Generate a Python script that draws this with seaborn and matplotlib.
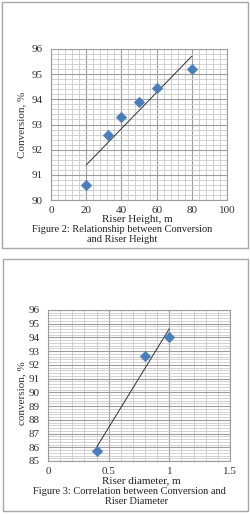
import matplotlib
matplotlib.use("Agg")
import matplotlib.pyplot as plt
import seaborn as sns
import pandas as pd
from matplotlib.ticker import MultipleLocator
from matplotlib.patches import Rectangle

# Figure 2: conversion vs riser height
height_m = [20, 32.5, 40, 50, 60, 80]
conv_height = [90.6, 92.6, 93.3, 93.9, 94.45, 95.2]
height_ticks = [0, 20, 40, 60, 80, 100]
height_tick_labels = ["0", "20", "40", "60", "80", "100"]
conv_ticks_top = [90, 91, 92, 93, 94, 95, 96]

# Figure 3: conversion vs riser diameter
diameter_m = [0.4, 0.8, 1.0]
conv_diameter = [85.7, 92.65, 94.05]
diam_ticks = [0, 0.5, 1, 1.5]
diam_tick_labels = ["0", "0.5", "1", "1.5"]
conv_ticks_bottom = list(range(85, 97))

df_h = pd.DataFrame({"height": height_m, "conv": conv_height})
df_d = pd.DataFrame({"diameter": diameter_m, "conv": conv_diameter})

sns.set_style("white")
plt.rcParams["font.family"] = ["Liberation Serif", "DejaVu Serif"]

W, H = 250, 514
fig = plt.figure(figsize=(W / 100, H / 100), dpi=100)
blue = "#4a7ebb"


def px(x0, y0, x1, y1):
    # pixel box (top-left origin) -> figure fraction rect
    return [x0 / W, 1 - y1 / H, (x1 - x0) / W, (y1 - y0) / H]


def style_axes(ax, xminor, yminor):
    ax.xaxis.set_minor_locator(MultipleLocator(xminor))
    ax.yaxis.set_minor_locator(MultipleLocator(yminor))
    ax.grid(which="minor", color="#cacaca", lw=0.6)
    ax.grid(which="major", color="#9c9c9c", lw=0.8)
    ax.set_axisbelow(True)
    for s in ax.spines.values():
        s.set_color("#9c9c9c")
        s.set_linewidth(0.8)
    ax.tick_params(which="both", length=0, labelsize=8, colors="#333333")
    ax.tick_params(axis="y", pad=6)
    ax.tick_params(axis="x", pad=4)
    ax.set_xlabel("")
    ax.set_ylabel("")


# panel borders
for (x0, y0, x1, y1) in [(2, 2, 248, 248), (3, 259, 248, 511)]:
    fig.patches.append(Rectangle((x0 / W, 1 - y1 / H), (x1 - x0) / W, (y1 - y0) / H,
                                 transform=fig.transFigure, fill=False,
                                 edgecolor="#a8a8a8", lw=1.0))

# ---- top chart
ax1 = fig.add_axes(px(51, 49, 227, 200))
sns.regplot(data=df_h, x="height", y="conv", scatter=False, ci=None, ax=ax1,
            line_kws={"color": "#333333", "lw": 0.7})
sns.scatterplot(data=df_h, x="height", y="conv", marker="D", s=30, color=blue,
                edgecolor=blue, linewidth=0.3, ax=ax1, zorder=3)
ax1.set_xlim(0, 100)
ax1.set_ylim(90, 96)
ax1.set_xticks(height_ticks)
ax1.set_xticklabels(height_tick_labels)
ax1.set_yticks(conv_ticks_top)
style_axes(ax1, 4, 0.2)

fig.text(22 / W, 1 - 125 / H, "Conversion, %", rotation=90, ha="center",
         va="center", fontsize=8, color="#333333")
fig.text(137 / W, 1 - 220 / H, "Riser Height, m", ha="center", va="center",
         fontsize=8, color="#222222")
fig.text(122 / W, 1 - 229.5 / H, "Figure 2: Relationship between Conversion",
         ha="center", va="center", fontsize=7.5, color="#222222")
fig.text(122 / W, 1 - 239.5 / H, "and Riser Height", ha="center", va="center",
         fontsize=7.5, color="#222222")

# ---- bottom chart
ax2 = fig.add_axes(px(48, 310, 230, 461))
sns.regplot(data=df_d, x="diameter", y="conv", scatter=False, ci=None, ax=ax2,
            line_kws={"color": "#333333", "lw": 0.7})
sns.scatterplot(data=df_d, x="diameter", y="conv", marker="D", s=30, color=blue,
                edgecolor=blue, linewidth=0.3, ax=ax2, zorder=3)
ax2.set_xlim(0, 1.5)
ax2.set_ylim(85, 96)
ax2.set_xticks(diam_ticks)
ax2.set_xticklabels(diam_tick_labels)
ax2.set_yticks(conv_ticks_bottom)
style_axes(ax2, 0.1, 0.2)

fig.text(22 / W, 1 - 393 / H, "conversion, %", rotation=90, ha="center",
         va="center", fontsize=8, color="#333333")
fig.text(141 / W, 1 - 481 / H, "Riser diameter, m", ha="center", va="center",
         fontsize=8, color="#222222")
fig.text(129 / W, 1 - 491 / H, "Figure 3: Correlation between Conversion and",
         ha="center", va="center", fontsize=7.5, color="#222222")
fig.text(137 / W, 1 - 502 / H, "Riser Diameter", ha="center", va="center",
         fontsize=7.5, color="#222222")

fig.savefig("out.png", dpi=100, facecolor="white")
